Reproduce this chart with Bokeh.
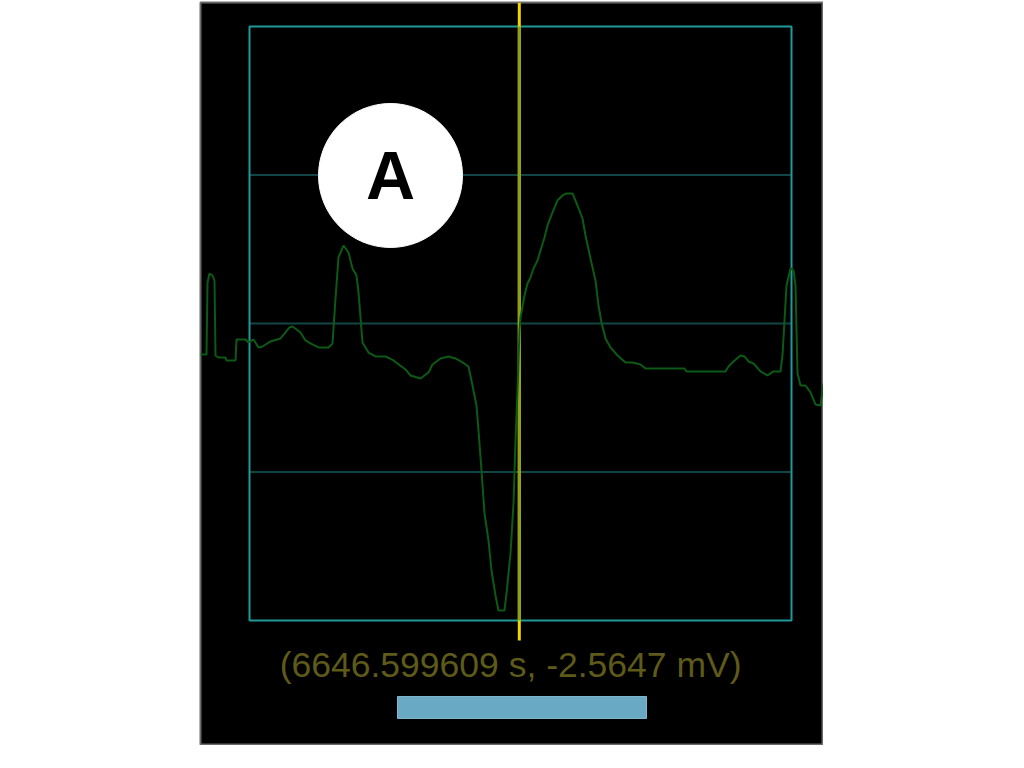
from bokeh.plotting import figure
from bokeh.models import Range1d
from bokeh.core.properties import value
from bokeh.embed import file_html
from bokeh.resources import INLINE

# ---- data ----
ecg_t = [6645.962, 6645.974, 6645.976, 6645.980, 6645.986, 6645.990, 6645.992, 6645.998,
         6646.012, 6646.014, 6646.032, 6646.034, 6646.052, 6646.058, 6646.068, 6646.078,
         6646.086, 6646.102, 6646.122, 6646.140, 6646.146, 6646.162, 6646.172, 6646.182,
         6646.198, 6646.218, 6646.226, 6646.232, 6646.238, 6646.248, 6646.258, 6646.266,
         6646.274, 6646.278, 6646.286, 6646.298, 6646.312, 6646.332, 6646.348, 6646.372,
         6646.382, 6646.402, 6646.418, 6646.426, 6646.442, 6646.458, 6646.472, 6646.486,
         6646.498, 6646.506, 6646.514, 6646.518, 6646.524, 6646.530, 6646.538, 6646.544,
         6646.552, 6646.558, 6646.570, 6646.574, 6646.582, 6646.588, 6646.592, 6646.596,
         6646.600, 6646.602, 6646.610, 6646.616, 6646.622, 6646.628, 6646.636, 6646.642,
         6646.650, 6646.656, 6646.666, 6646.676, 6646.686, 6646.694, 6646.706, 6646.716,
         6646.726, 6646.732, 6646.742, 6646.752, 6646.758, 6646.764, 6646.772, 6646.782,
         6646.796, 6646.812, 6646.826, 6646.842, 6646.852, 6646.930, 6646.934, 6647.012,
         6647.018, 6647.028, 6647.042, 6647.050, 6647.058, 6647.068, 6647.082, 6647.096,
         6647.108, 6647.122, 6647.126, 6647.130, 6647.134, 6647.142, 6647.148, 6647.152,
         6647.156, 6647.162, 6647.172, 6647.182, 6647.192, 6647.202, 6647.208]
ecg_mv = [-0.418, -0.418, 0.552, 0.673, 0.646, 0.579, -0.431, -0.458,
          -0.458, -0.498, -0.498, -0.215, -0.215, -0.256, -0.215, -0.323,
          -0.310, -0.242, -0.202, -0.054, -0.040, -0.121, -0.229, -0.269,
          -0.323, -0.323, -0.269, 0.337, 0.889, 1.050, 0.956, 0.741,
          0.646, 0.418, -0.256, -0.391, -0.444, -0.444, -0.498, -0.620,
          -0.700, -0.741, -0.660, -0.552, -0.471, -0.444, -0.471, -0.525,
          -0.579, -0.835, -1.104, -1.441, -1.980, -2.559, -2.923, -3.327,
          -3.663, -3.865, -3.865, -3.636, -3.098, -2.424, -1.576, -0.902,
          -0.094, 0.081, 0.377, 0.539, 0.620, 0.741, 0.848, 0.983,
          1.158, 1.320, 1.495, 1.657, 1.724, 1.751, 1.751, 1.589,
          1.414, 1.185, 0.875, 0.579, 0.242, 0.013, -0.202, -0.323,
          -0.431, -0.525, -0.525, -0.552, -0.606, -0.606, -0.646, -0.646,
          -0.579, -0.512, -0.431, -0.444, -0.512, -0.539, -0.646, -0.700,
          -0.646, -0.646, -0.431, 0.040, 0.512, 0.741, 0.714, 0.512,
          -0.673, -0.835, -0.835, -0.929, -1.091, -1.104, -0.808]

view_t = [6645.962, 6647.208]          # visible time span of the panel
view_mv = [-5.684, 4.323]              # visible voltage span of the panel
frame_t = [6646.06, 6647.144]          # display window
frame_mv = [-4.0, 4.0]
grid_mv = [-2.0, 0.0, 2.0]
cursor_t = 6646.599609
cursor_mv = -2.5647
cursor_span_mv = [-4.269, 4.323]
marker_t = 6646.342
marker_mv = 1.993
marker_label = "A"
readout_t = 6646.592
readout_mv = -4.606
scrollbar_t = [6646.356, 6646.854]
scrollbar_mv = [-5.320, -5.024]

p = figure(width=823, height=745, output_backend="svg", toolbar_location=None,
           x_range=Range1d(*view_t), y_range=Range1d(*view_mv),
           x_axis_location=None, y_axis_location=None, min_border=0,
           min_border_left=200, min_border_right=0, min_border_top=2, min_border_bottom=0)
p.background_fill_color = "black"
p.border_fill_color = "white"
p.outline_line_color = "#6a6a6a"
p.outline_line_width = 2
p.xgrid.visible = False
p.ygrid.visible = False

# grid lines inside the frame
p.segment(x0=[frame_t[0]] * len(grid_mv), x1=[frame_t[1]] * len(grid_mv),
          y0=grid_mv, y1=grid_mv, line_color="#124646", line_width=2)
# frame
p.quad(left=[frame_t[0]], right=[frame_t[1]], bottom=[frame_mv[0]], top=[frame_mv[1]],
       fill_alpha=0, line_color="#1e9a9a", line_width=2)

# cursor
p.segment(x0=[cursor_t], x1=[cursor_t], y0=[cursor_span_mv[0]], y1=[cursor_span_mv[1]],
          line_color="#f2d400", line_width=3)
p.segment(x0=[cursor_t], x1=[cursor_t], y0=[frame_mv[0]], y1=[frame_mv[1]],
          line_color="#8ea016", line_width=3)

# ECG trace
p.line(ecg_t, ecg_mv, line_color="#0d5a17", line_width=2)

# marker
p.scatter([marker_t], [marker_mv], size=144, fill_color="white", line_color="white")
p.text([marker_t], [marker_mv], text=[marker_label], text_align="center", text_baseline="middle",
       text_font=value("Liberation Sans"), text_font_style="bold", text_font_size="68px",
       text_color="black")

# readout
readout = f"({cursor_t:.6f} s,  {cursor_mv:.4f} mV)"
p.text([readout_t], [readout_mv], text=[readout], text_align="center", text_baseline="middle",
       text_font=value("Liberation Sans"), text_font_size="35.5px", text_color="#5e5a1a")

# scrollbar
p.quad(left=[scrollbar_t[0]], right=[scrollbar_t[1]], bottom=[scrollbar_mv[0]], top=[scrollbar_mv[1]],
       fill_color="#6aa9c4", line_color="#80b8d0", line_width=1)

open("out.html", "w").write(file_html(p, INLINE))
